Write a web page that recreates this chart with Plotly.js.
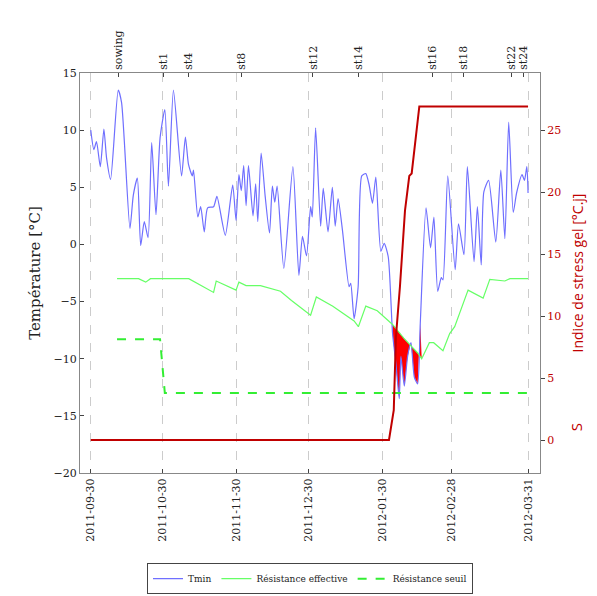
<!DOCTYPE html>
<html><head><meta charset="utf-8">
<script src="https://cdn.plot.ly/plotly-3.0.1.min.js"></script>
<style>body{margin:0}#g{width:597px;height:596px}</style>
</head><body><div id="g"></div>
<script>
// jours depuis le 2011-09-30
const tminDays = [0,1.3,2.4,4,5.5,6.6,8.3,11.5,12.9,16.4,17.8,19.5,20.9,22.4,24,25.5,27.3,29,31,32.5,34.6,38,39.6,40.9,42.5,43,44.8,46,47.5,48.9,51.4,52.8,56.3,59.4,60.8,62,63,64,65,66,67.9,69,69.9,71.3,73,74.8,76,77,78,80.8,84.6,87.1,88.6,90.3,92,92.7,94.1,96.2,97.3,99.3,101.1,102.3,103.5,105.3,108.1,108.8,110.2,111.9,113.4,115.1,116.5,117.9,119.3,121.4,122.8,124.5,126.3,127.7,129.1,129.8,131.2,132.6,134,135.4,136.8,137.9,140.3,142.2,143.6,145.2,146.7,147.4,149.4,152.5,153.9,156.2,157.6,160.4,161.8,163.4,164.5,166.5,169.5,171.6,173.3,174.9,176.8,178.2,180.5,181.5,182.5,183];
const tmin = [10.0,8.3,9.0,6.8,10.1,7.6,5.7,13.5,12.4,1.4,4.3,5.8,-0.1,2.0,0.6,8.9,2.6,9.3,11.8,5.1,13.5,6.0,9.4,7.0,6.0,6.5,2.4,3.3,1.1,3.2,3.3,4.2,0.8,5.2,2.1,6.1,4.7,6.9,3.4,6.9,2.5,5.3,2.0,8.0,4.2,1.0,5.1,3.7,5.1,-2.1,6.8,-2.7,0.7,-1.0,3.3,2.4,10.2,1.6,4.9,1.1,5.0,1.6,4.0,1.3,-3.7,-3.4,-6.5,-3.7,6.0,6.2,5.2,3.6,5.9,-0.6,0.1,-1.1,-7.8,-10.4,-13.5,-9.8,-12.4,-9.8,-8.6,-11.6,-12.2,-6.9,3.2,-0.3,2.4,-4.1,-2.9,-3.1,6.0,-2.2,1.8,-0.9,6.8,-1.5,3.3,-1.8,4.6,5.6,0.2,6.5,0.5,10.7,2.8,4.5,6.1,5.6,6.8,4.5];
const resDays = [11,20,23,25,41,51.4,52.5,60.8,62,65,71,79.4,84,92,94.4,101.3,110.2,112,115.1,119.9,126.3,131,136.8,138.5,141.7,143.5,147.4,150.2,152.3,156.5,157.9,164.2,167,173.3,175.4,183];
const resEff = [-3,-3,-3.3,-3,-3,-4.2,-3.2,-4.0,-3.3,-3.6,-3.6,-4.1,-4.9,-6.2,-4.6,-5.4,-6.7,-7.2,-5.4,-5.8,-7.0,-8.2,-9.5,-10.0,-8.6,-8.6,-9.3,-7.8,-7.2,-4.9,-4.0,-4.7,-3.05,-3.2,-3,-3];
const seuilDays = [11,29,31,183];
const seuil = [-8.3,-8.3,-13,-13];
const stressDays = [0,124.8,126.8,127.7,129.4,131.5,133.3,134.3,137.5,183];
const stress = [0,0,2.4,8.3,12.4,18.5,21.3,21.5,26.9,26.9];
const stageDays = [11.5,30.5,41,63,93,112,143,156,176,181];
const stageNames = ['sowing','st1','st4','st8','st12','st14','st16','st18','st22','st24'];
const dateTicks = ['2011-09-30','2011-10-30','2011-11-30','2011-12-30','2012-01-30','2012-02-28','2012-03-31'];

const t0 = Date.UTC(2011,8,30);
const d = arr => arr.map(v => new Date(t0 + v*86400000).toISOString().slice(0,19));

// zone de gel : Tmin sous la résistance effective
const fx = [], fy = [];
tminDays.forEach((v,i)=>{ if(v>=126.3 && v<=137.9){fx.push(v);fy.push(tmin[i]);} });
for(let i=resDays.length-1;i>=0;i--){ if(resDays[i]>=126.3 && resDays[i]<=138.5){fx.push(resDays[i]);fy.push(resEff[i]);} }
fx.push(126.3); fy.push(-7.0);

const serif = 'DejaVu Serif, Liberation Serif, serif';
const data = [
  {x:d(fx), y:fy, fill:'toself', fillcolor:'red', line:{width:0}, mode:'lines', showlegend:false, hoverinfo:'skip'},
  {x:d(tminDays), y:tmin, mode:'lines', name:'Tmin', line:{color:'#6f6fff', width:1.2, shape:'spline', smoothing:0.6}},
  {x:d(resDays), y:resEff, mode:'lines', name:'Résistance effective', line:{color:'#66ff66', width:1.2}},
  {x:d(seuilDays), y:seuil, mode:'lines', name:'Résistance seuil', line:{color:'#33ee33', width:2, dash:'dash'}},
  {x:d(stressDays), y:stress, mode:'lines', yaxis:'y2', showlegend:false, line:{color:'#c00000', width:2}},
  {x:d(stageDays), y:stageDays.map(()=>null), xaxis:'x2', showlegend:false, mode:'markers'}
];
const layout = {
  width:597, height:596, margin:{l:80, r:57, t:73, b:123},
  paper_bgcolor:'white', plot_bgcolor:'white',
  font:{family:serif, size:11, color:'#222'},
  xaxis:{type:'date', range:d([-4.5,188]), tickvals:d([0,30,61,91,122,151,183]), ticktext:dateTicks,
    tickangle:-90, showgrid:true, gridcolor:'#ccc', griddash:'dash', zeroline:false, automargin:false,
    showline:true, linecolor:'#888', ticks:'inside', ticklen:4},
  xaxis2:{type:'date', overlaying:'x', side:'top', range:d([-4.5,188]), tickvals:d(stageDays), ticktext:stageNames,
    tickangle:-90, showgrid:false, showline:true, linecolor:'#888', ticks:'inside', ticklen:4, automargin:false},
  yaxis:{range:[-20,15], dtick:5, showgrid:false, zeroline:false, showline:true, linecolor:'#888', automargin:false,
    ticks:'inside', ticklen:4, title:{text:'Température [°C]', font:{size:15, family:serif}}},
  yaxis2:{overlaying:'y', side:'right', range:[-2.66,29.6], tickvals:[0,5,10,15,20,25], showgrid:false, zeroline:false,
    showline:true, linecolor:'#888', ticks:'outside', ticklen:4, tickfont:{color:'#c00000'}, automargin:false,
    title:{text:'Indice de stress gel [°C.j]', font:{family:'Open Sans, sans-serif', size:14, color:'#c00000'}, standoff:12}},
  annotations:[{text:'S', xref:'paper', yref:'paper', x:1.105, y:0.1, textangle:-90, showarrow:false,
    font:{family:'Open Sans, sans-serif', size:15, color:'#c00000'}}],
  legend:{orientation:'h', x:0.5, xanchor:'center', yref:'container', y:0.003, yanchor:'bottom',
    bordercolor:'#444', borderwidth:1, font:{size:9}}
};
Plotly.newPlot('g', data, layout, {displayModeBar:false});
</script></body></html>
